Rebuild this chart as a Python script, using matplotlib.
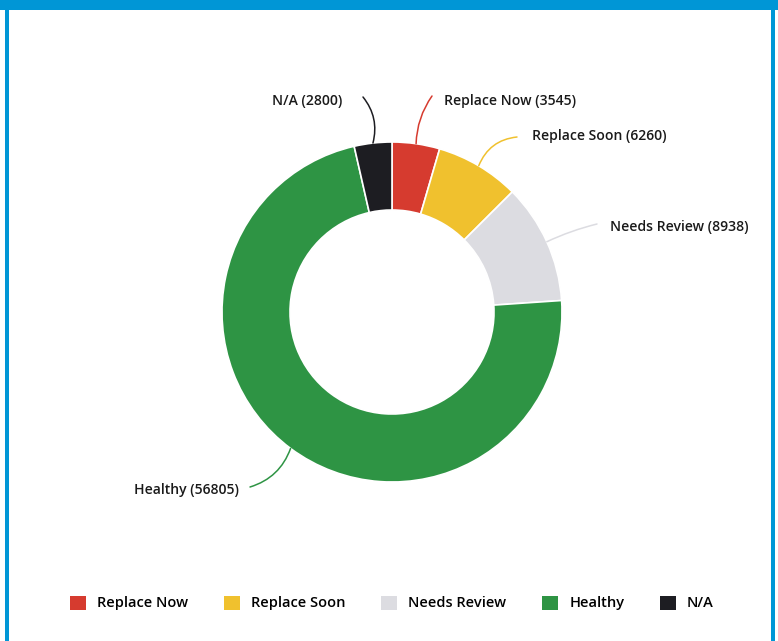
import matplotlib
matplotlib.use('Agg')
import matplotlib.pyplot as plt
from matplotlib.patches import Patch, Rectangle
import numpy as np

categories = ['Replace Now', 'Replace Soon', 'Needs Review', 'Healthy', 'N/A']
counts = [3545, 6260, 8938, 56805, 2800]
colors = ['#d63b2f', '#f0c12e', '#dcdce1', '#2e9444', '#1d1d22']

W, H = 778, 641
fig = plt.figure(figsize=(W / 100, H / 100), dpi=100)
ax = fig.add_axes([0, 0, 1, 1])

cx, cy, R = 392, H - 312, 170
wedges, _ = ax.pie(counts, colors=colors, startangle=90, counterclock=False,
                   center=(cx, cy), radius=R, frame=True,
                   wedgeprops=dict(width=R * 0.4, edgecolor='white', linewidth=1.2))
ax.set_xlim(0, W)
ax.set_ylim(0, H)
ax.axis('off')

# label text position (left x, y) and leader start point, in image pixels
label_pos = [(444, 101), (532, 136), (610, 227), (134, 490), (272, 101)]
line_start = [(432, 96), (517, 137), (597, 224), (250, 487), (363, 97)]
rads = [0.15, 0.3, 0.05, 0.25, -0.25]

font = dict(family='Open Sans', fontsize=10.1, fontweight='semibold', color='#1a1a1a')

for w, name, n, c, (tx, ty), (sx, sy), rd in zip(wedges, categories, counts, colors,
                                                 label_pos, line_start, rads):
    ang = np.deg2rad((w.theta1 + w.theta2) / 2)
    ax_pt = (cx + R * np.cos(ang), cy + R * np.sin(ang))
    ax.annotate('', xy=ax_pt, xytext=(sx, H - sy),
                arrowprops=dict(arrowstyle='-', color=c, lw=1.1, shrinkA=0, shrinkB=0,
                                connectionstyle=f'arc3,rad={rd}'))
    ax.text(tx, H - ty, f'{name} ({n})', ha='left', va='center', **font)

handles = [Patch(facecolor=c, edgecolor='none') for c in colors]
fig.legend(handles, categories, loc='center', bbox_to_anchor=(392 / W, 1 - 603 / H),
           ncol=5, frameon=False, handlelength=1.1, handleheight=1.1,
           handletextpad=0.75, columnspacing=2.45,
           prop=dict(family='Open Sans', size=10.5, weight='semibold'))

# blue frame
blue = '#0096d6'
fig.patches.append(Rectangle((0, 1 - 10 / H), 1, 10 / H, transform=fig.transFigure,
                             facecolor=blue, edgecolor='none'))
fig.patches.append(Rectangle((5 / W, 0), 4 / W, 1, transform=fig.transFigure,
                             facecolor=blue, edgecolor='none'))
fig.patches.append(Rectangle((771 / W, 0), 4 / W, 1, transform=fig.transFigure,
                             facecolor=blue, edgecolor='none'))

fig.savefig('out.png', dpi=100)
